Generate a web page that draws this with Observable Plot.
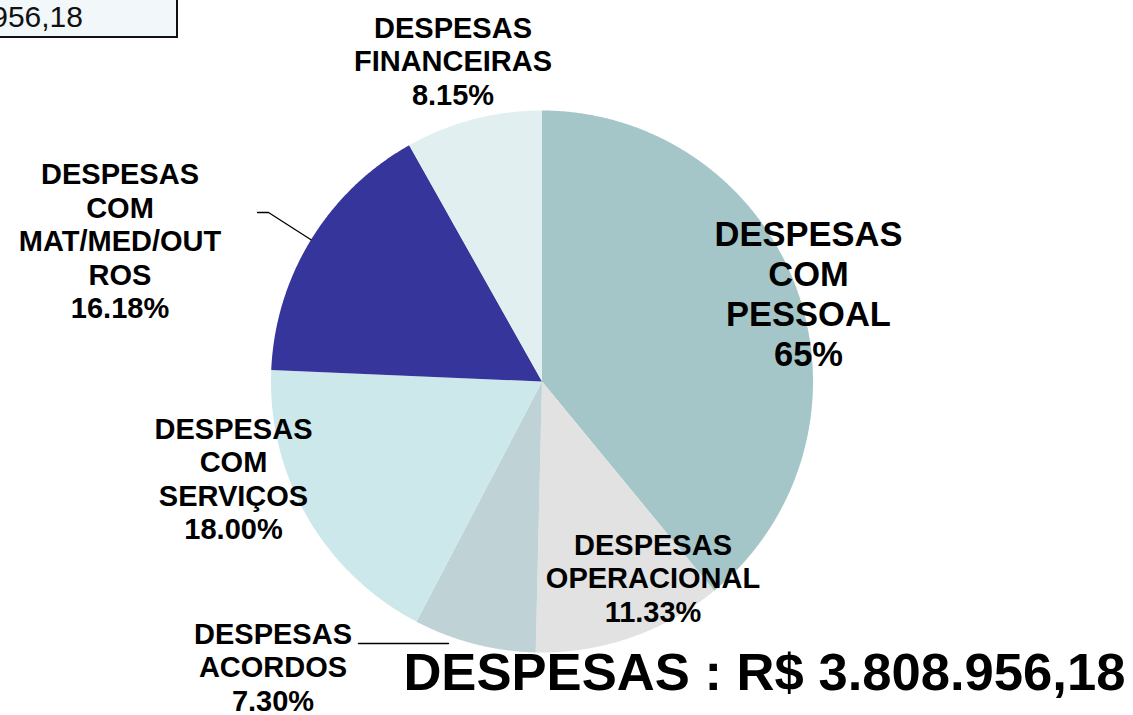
<!DOCTYPE html>
<html>
<head>
<meta charset="utf-8">
<script src="https://cdn.jsdelivr.net/npm/d3@7"></script>
<script src="https://cdn.jsdelivr.net/npm/@observablehq/plot@0.6"></script>
<style>
  html, body { margin: 0; padding: 0; background: #fff; overflow: hidden; }
  #wrap { position: relative; width: 1133px; height: 715px; }
  #cell { position: absolute; left: -2px; top: -2px; width: 180px; height: 40px; box-sizing: border-box;
          border: 2px solid #111; background: #f2f7fa; overflow: hidden;
          font-family: "Liberation Sans", Arial, sans-serif; font-size: 30px; line-height: 1; color: #111; }
  #cell span { position: absolute; right: 93px; top: 2px; white-space: nowrap; }
  svg { display: block; }
</style>
</head>
<body>
<div id="wrap"><div id="chart"></div><div id="cell"><span>956,18</span></div></div>
<script>
// ---- data ----
const categories = ["DESPESAS COM PESSOAL", "DESPESAS OPERACIONAL", "DESPESAS ACORDOS",
                    "DESPESAS COM SERVIÇOS", "DESPESAS COM MAT/MED/OUTROS", "DESPESAS FINANCEIRAS"];
const values = [39.04, 11.33, 7.30, 18.00, 16.18, 8.15];
const labelTexts = ["DESPESAS\nCOM\nPESSOAL\n65%", "DESPESAS\nOPERACIONAL\n11.33%", "DESPESAS\nACORDOS\n7.30%",
                    "DESPESAS\nCOM\nSERVIÇOS\n18.00%", "DESPESAS\nCOM\nMAT/MED/OUT\nROS\n16.18%", "DESPESAS\nFINANCEIRAS\n8.15%"];
const titleText = "DESPESAS : R$ 3.808.956,18";

// ---- styling / layout ----
const colors = ["#a4c6c9", "#e2e2e2", "#bfd3d6", "#cde8eb", "#35359b", "#e1eff1"];
const CX = 541.5, CY = 381, R = 271;
const px = (x) => (x - CX) / R;
const py = (y) => (CY - y) / R;
const labelLayout = [
  {x: 808, y: 292.5, size: 34.5},
  {x: 652.5, y: 577, size: 29},
  {x: 272.5, y: 666, size: 29},
  {x: 233, y: 478, size: 29},
  {x: 119.5, y: 240, size: 29},
  {x: 452.5, y: 60, size: 29}
];

const arcs = d3.pie().sort(null).value(d => d)(values);
const slices = arcs.map((a, i) => {
  const pts = [{x: 0, y: 0}];
  const n = Math.max(2, Math.ceil((a.endAngle - a.startAngle) / 0.005));
  for (let k = 0; k <= n; k++) {
    const t = a.startAngle + (a.endAngle - a.startAngle) * k / n;
    pts.push({x: Math.sin(t), y: Math.cos(t)});
  }
  return {pts, color: colors[i]};
});
const mid = (i) => (arcs[i].startAngle + arcs[i].endAngle) / 2;

// leader lines: from label side to slice edge
const leaders = [
  [{x: px(257), y: py(212)}, {x: px(268), y: py(212)}, {x: Math.sin(mid(4)), y: Math.cos(mid(4))}],
  [{x: px(358), y: py(643)}, {x: px(448), y: py(643)}]
];

const labels = labelTexts.map((t, i) => ({text: t, x: px(labelLayout[i].x), y: py(labelLayout[i].y), size: labelLayout[i].size}));

const font = "'Liberation Sans', Arial, Helvetica, sans-serif";
const marks = [
  ...slices.map(s => Plot.line(s.pts, {x: "x", y: "y", fill: s.color, stroke: "none", curve: "linear-closed"})),
  ...leaders.map(l => Plot.line(l, {x: "x", y: "y", stroke: "#000", strokeWidth: 1.3})),
  ...labels.map(l => Plot.text([l], {x: "x", y: "y", text: "text", fontSize: l.size, fontWeight: "bold",
                                     lineHeight: 1.155, fill: "#000", textAnchor: "middle", fontFamily: font})),
  Plot.text([titleText], {x: () => px(1125), y: () => py(672.5), text: d => d, fontSize: 52.6, fontWeight: "bold",
                          textAnchor: "end", fill: "#000", fontFamily: font})
];

const chart = Plot.plot({
  width: 1133, height: 715,
  margin: 0,
  style: {background: "transparent", fontFamily: font, overflow: "visible"},
  x: {domain: [-1, 1], range: [CX - R, CX + R], axis: null},
  y: {domain: [-1, 1], range: [CY + R, CY - R], axis: null},
  marks
});
document.getElementById("chart").appendChild(chart);
</script>
</body>
</html>
